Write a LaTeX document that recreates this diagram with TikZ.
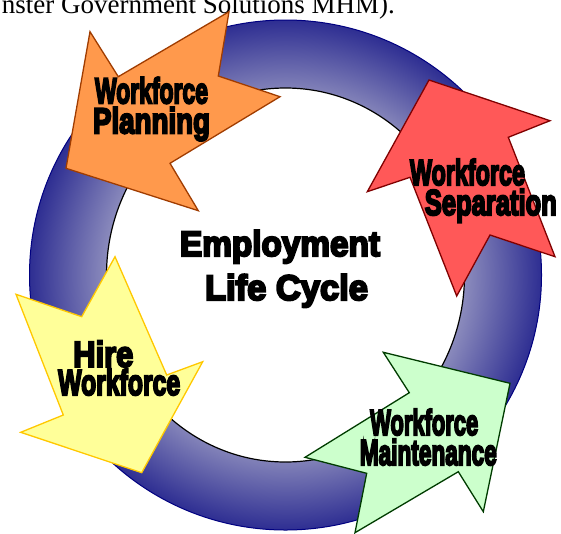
\documentclass[tikz,border=0pt]{standalone}
\usepackage{fontspec}
\usepackage{graphicx}
\setmainfont{Liberation Serif}
\newfontfamily\heavyfont[FakeBold=6]{Liberation Sans}
\definecolor{ringlight}{RGB}{138,138,188}
\definecolor{ringdark}{RGB}{46,46,146}
\definecolor{ringedge}{RGB}{0,0,128}
\definecolor{orfill}{RGB}{255,153,76}
\definecolor{ordraw}{RGB}{160,60,0}
\definecolor{rdfill}{RGB}{255,88,88}
\definecolor{rddraw}{RGB}{128,0,0}
\definecolor{ylfill}{RGB}{255,255,153}
\definecolor{yldraw}{RGB}{255,200,0}
\definecolor{grfill}{RGB}{204,255,204}
\definecolor{grdraw}{RGB}{0,60,0}
\pgfdeclareradialshading{ringshade}{\pgfpointorigin}{color(0bp)=(ringlight); color(17.6bp)=(ringlight); color(25bp)=(ringdark); color(50bp)=(ringdark)}
\newcommand\fitline[2]{\resizebox{#1}{\height}{#2}}
\tikzset{
  blockarrow/.style={line width=1.3pt, line join=miter},
  lbl/.style={anchor=base, inner sep=0pt, font=\heavyfont\bfseries\fontsize{36}{40}\selectfont},
  ctr/.style={anchor=base, inner sep=0pt, font=\heavyfont\bfseries\fontsize{35.5}{40}\selectfont},
}
\begin{document}
\begin{tikzpicture}[x=1pt,y=-1pt]
\useasboundingbox (0,0) rectangle (561,533);
\clip (0,0) rectangle (561,533);
\fill[white] (0,0) rectangle (561,533);
% header text (cut off at top)
\node[anchor=base east, inner sep=0pt, font=\fontsize{27}{30}\selectfont] (hdr) at (395,13.3) {nster Government Solutions MHM).};
% ring
\coordinate (c) at (285.5,275);
\shade[shading=ringshade] (c) ellipse [x radius=256, y radius=255];
\draw[ringedge, line width=1pt] (c) ellipse [x radius=256, y radius=255];
\filldraw[fill=white, draw=black, line width=1.2pt] (c) ellipse [x radius=179, y radius=187];
% orange arrow
\draw[blockarrow, fill=orfill, draw=ordraw] (90,31.7) -- (118.3,76.7) -- (229,11.7) -- (218.3,76) -- (280,96.7) -- (170,163.3) -- (198.3,210.7) -- (66,168.3) -- cycle;
% red arrow
\draw[blockarrow, fill=rdfill, draw=rddraw] (429,80) -- (550,120.7) -- (508.3,137.3) -- (555,256.7) -- (490,235) -- (456.7,296) -- (410,177.3) -- (367.3,191.7) -- cycle;
% yellow arrow
\draw[blockarrow, fill=ylfill, draw=yldraw] (115,256.7) -- (166.7,375) -- (202.7,361.7) -- (141.7,472.7) -- (20.7,432.3) -- (63.3,415) -- (16,294.3) -- (81.7,316.7) -- cycle;
% green arrow
\draw[blockarrow, fill=grfill, draw=grdraw] (383.3,352.3) -- (409.3,392.7) -- (305,457.3) -- (366.7,473.3) -- (355,532.7) -- (458.3,471.7) -- (483.3,511.7) -- (510,383.3) -- cycle;
% labels
\node[lbl] (plan1) at (151.5,103.3) {\fitline{113pt}{Workforce}};
\node[lbl] (plan2) at (151.5,133.3) {\fitline{117pt}{Planning}};
\node[lbl] (sep1) at (467.5,185) {\fitline{115pt}{Workforce}};
\node[lbl] (sep2) at (490.8,215) {\fitline{132pt}{Separation}};
\node[lbl] (hire1) at (103.3,366.7) {\fitline{60pt}{Hire}};
\node[lbl] (hire2) at (119.2,395) {\fitline{122pt}{Workforce}};
\node[lbl] (main1) at (424.2,435) {\fitline{108pt}{Workforce}};
\node[lbl] (main2) at (428.3,465) {\fitline{137pt}{Maintenance}};
\node[ctr] (emp1) at (280,256) {\fitline{200pt}{Employment}};
\node[ctr] (emp2) at (286.5,300) {\fitline{163pt}{Life Cycle}};
\end{tikzpicture}
\end{document}
